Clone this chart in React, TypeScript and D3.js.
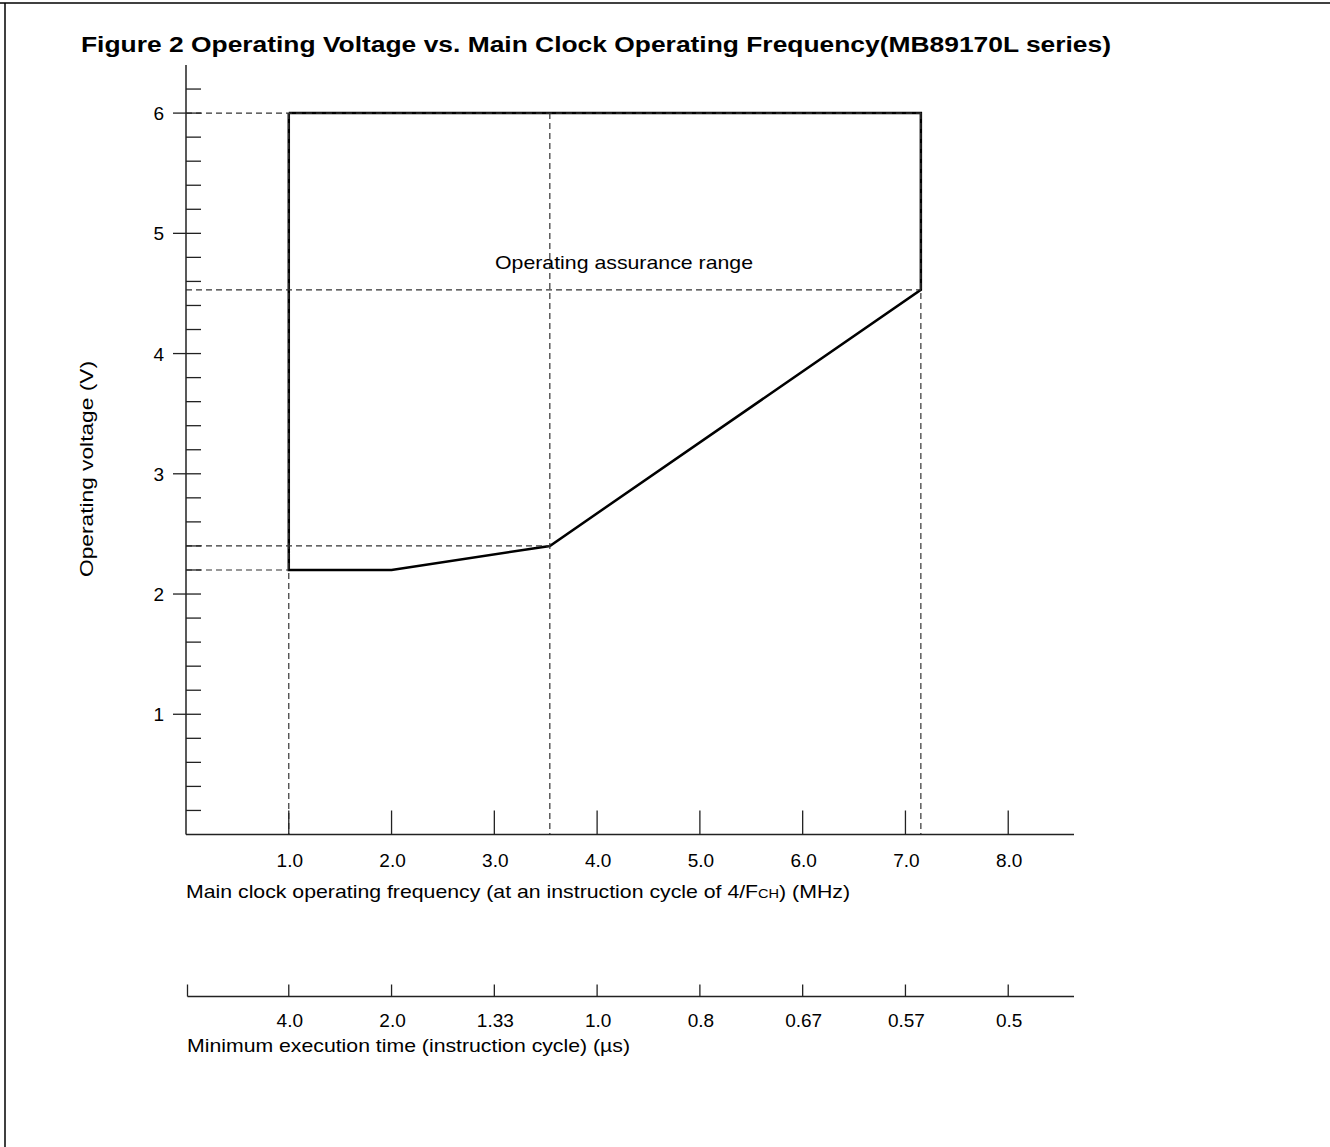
import React from "react";
import * as d3 from "d3";

// ---- data ----
const voltageMajorTicks = [1, 2, 3, 4, 5, 6];
const voltageMinorTicks = [0.2, 0.4, 0.6, 0.8, 1.2, 1.4, 1.6, 1.8, 2.2, 2.4, 2.6, 2.8, 3.2, 3.4, 3.6, 3.8, 4.2, 4.4, 4.6, 4.8, 5.2, 5.4, 5.6, 5.8, 6.2];
const freqTicks = [1, 2, 3, 4, 5, 6, 7, 8];
const freqLabels = ["1.0", "2.0", "3.0", "4.0", "5.0", "6.0", "7.0", "8.0"];
const execTimeTicks = [0, 1, 2, 3, 4, 5, 6, 7, 8];
const execTimeLabels = ["", "4.0", "2.0", "1.33", "1.0", "0.8", "0.67", "0.57", "0.5"];

// operating assurance range boundary (MHz, V)
const boundaryFreq = [1.0, 7.15, 7.15, 3.54, 2.0, 1.0, 1.0];
const boundaryVolt = [6.0, 6.0, 4.53, 2.4, 2.2, 2.2, 6.0];

// dashed guide lines
const hGuideVolt = [6.0, 4.53, 2.4, 2.2];
const hGuideToFreq = [7.15, 7.15, 3.54, 1.0];
const vGuideFreq = [1.0, 3.54, 7.15];
const vGuideTopVolt = [6.0, 6.0, 6.0];

const TITLE = "Figure 2  Operating Voltage vs. Main Clock Operating Frequency(MB89170L series)";

export default function App() {
  const W = 1330;
  const H = 1147;
  const x = d3.scaleLinear().domain([0, 8.64]).range([186, 1074]);
  const y = d3.scaleLinear().domain([0, 6.4]).range([834.5, 65]);
  const axisY2 = 996.5;

  const pts: [number, number][] = boundaryFreq.map((f, i) => [f, boundaryVolt[i]]);
  const line = d3
    .line<[number, number]>()
    .x((d) => x(d[0]))
    .y((d) => y(d[1]));

  const font = "'Liberation Sans', Arial, Helvetica, sans-serif";
  const axisColor = "#222";
  const dashColor = "#333";

  return (
    <svg
      width={W}
      height={H}
      viewBox={`0 0 ${W} ${H}`}
      style={{ position: "absolute", left: 0, top: 0, background: "#fff" }}
      fontFamily={font}
    >
      <rect x={0} y={0} width={W} height={H} fill="#fff" />
      {/* frame */}
      <line x1={0} x2={W} y1={3} y2={3} stroke="#000" strokeWidth={1.5} />
      <line x1={5} x2={5} y1={3} y2={H} stroke="#000" strokeWidth={1.5} />

      {/* title */}
      <text x={81} y={52} fontSize={21.5} fontWeight="bold" fill="#000" textLength={1030} lengthAdjust="spacingAndGlyphs">
        {TITLE}
      </text>

      {/* boundary */}
      <path d={line(pts) || ""} fill="none" stroke="#000" strokeWidth={2.5} strokeLinejoin="miter" />

      {/* dashed guides */}
      {hGuideVolt.map((v, i) => (
        <line
          key={"h" + i}
          x1={x(0)}
          x2={x(hGuideToFreq[i])}
          y1={y(v)}
          y2={y(v)}
          stroke={dashColor}
          strokeWidth={1.2}
          strokeDasharray="6,4"
        />
      ))}
      {vGuideFreq.map((f, i) => (
        <line
          key={"v" + i}
          x1={x(f)}
          x2={x(f)}
          y1={y(vGuideTopVolt[i])}
          y2={y(0)}
          stroke={dashColor}
          strokeWidth={1.2}
          strokeDasharray="6,4"
        />
      ))}

      {/* y axis */}
      <line x1={x(0)} x2={x(0)} y1={y(0)} y2={y(6.4)} stroke={axisColor} strokeWidth={1.5} />
      {voltageMinorTicks.map((v) => (
        <line key={"mn" + v} x1={x(0)} x2={x(0) + 15} y1={y(v)} y2={y(v)} stroke={axisColor} strokeWidth={1.3} />
      ))}
      {voltageMajorTicks.map((v) => (
        <g key={"mj" + v}>
          <line x1={x(0) - 13} x2={x(0) + 15} y1={y(v)} y2={y(v)} stroke={axisColor} strokeWidth={1.3} />
          <text x={164} y={y(v) + 7} fontSize={19} textAnchor="end" fill="#000">
            {v}
          </text>
        </g>
      ))}
      <text
        transform={`translate(93,469) rotate(-90)`}
        fontSize={19}
        textAnchor="middle"
        fill="#000"
        textLength={216}
        lengthAdjust="spacingAndGlyphs"
      >
        Operating voltage (V)
      </text>

      {/* x axis (frequency) */}
      <line x1={x(0)} x2={x(8.64)} y1={y(0)} y2={y(0)} stroke={axisColor} strokeWidth={1.5} />
      {freqTicks.map((f, i) => (
        <g key={"xf" + f}>
          <line x1={x(f)} x2={x(f)} y1={y(0)} y2={y(0) - 24} stroke={axisColor} strokeWidth={1.3} />
          <text x={x(f) + 1} y={867} fontSize={19} textAnchor="middle" fill="#000">
            {freqLabels[i]}
          </text>
        </g>
      ))}
      <text x={186} y={898} fontSize={19} fill="#000" textLength={664} lengthAdjust="spacingAndGlyphs">
        Main clock operating frequency (at an instruction cycle of 4/F
        <tspan fontSize={13}>CH</tspan>) (MHz)
      </text>

      {/* second axis (execution time) */}
      <line x1={x(0) + 1.5} x2={x(8.64)} y1={axisY2} y2={axisY2} stroke={axisColor} strokeWidth={1.5} />
      {execTimeTicks.map((f, i) => (
        <g key={"xe" + f}>
          <line
            x1={x(f) + (f === 0 ? 1.5 : 0)}
            x2={x(f) + (f === 0 ? 1.5 : 0)}
            y1={axisY2}
            y2={axisY2 - 12}
            stroke={axisColor}
            strokeWidth={1.3}
          />
          {execTimeLabels[i] && (
            <text x={x(f) + 1} y={1027} fontSize={19} textAnchor="middle" fill="#000">
              {execTimeLabels[i]}
            </text>
          )}
        </g>
      ))}
      <text x={187} y={1052} fontSize={19} fill="#000" textLength={443} lengthAdjust="spacingAndGlyphs">
        Minimum execution time (instruction cycle) (µs)
      </text>

      {/* region label */}
      <text x={495} y={269} fontSize={19} fill="#000" textLength={258} lengthAdjust="spacingAndGlyphs">
        Operating assurance range
      </text>
    </svg>
  );
}
